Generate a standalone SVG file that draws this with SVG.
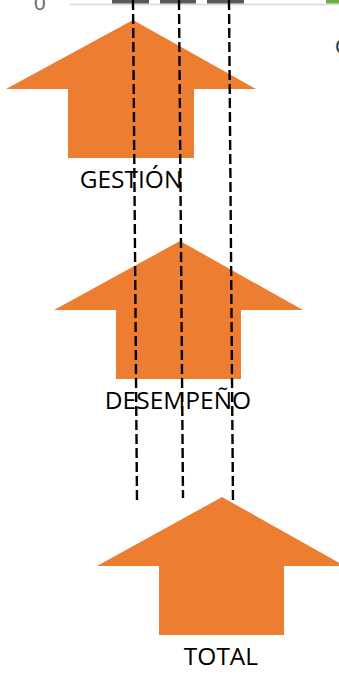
<svg xmlns="http://www.w3.org/2000/svg" width="339" height="676" viewBox="0 0 339 676">
<style>
.arrow{fill:#ed7d31}
.lbl{font-family:"Open Sans","Liberation Sans",sans-serif;font-size:24.5px;fill:#000;text-anchor:middle}
.dash{stroke:#000;stroke-width:2.4;stroke-dasharray:10,4;fill:none}
.axis{font-family:"Liberation Sans",sans-serif;font-size:21px;fill:#6b6b6b}
</style>
<rect width="339" height="676" fill="#fff"/>
<g id="chart-remnant">
<line x1="70" y1="4.5" x2="339" y2="4.5" stroke="#d9d9d9" stroke-width="1.5"/>
<rect x="112" y="0" width="37" height="3.5" fill="#595959"/>
<rect x="160" y="0" width="36" height="3.5" fill="#595959"/>
<rect x="207" y="0" width="37" height="3.5" fill="#595959"/>
<rect x="326" y="0" width="13" height="3.5" fill="#70ad47"/>
<text class="axis" x="34" y="10">0</text>
<text x="335" y="54" font-family="Liberation Sans,sans-serif" font-size="22" fill="#404040">C</text>
</g>
<g id="gestion">
<polygon class="arrow" points="133,20 256,89 194,89 194,158 68,158 68,89 6,89"/>
<text class="lbl" x="131" y="188">GESTIÓN</text>
</g>
<g id="desempeno">
<polygon class="arrow" points="180,241 303,310 241,310 241,379 116,379 116,310 54,310"/>
<text class="lbl" x="178" y="409">DESEMPEÑO</text>
</g>
<g id="total">
<polygon class="arrow" points="222,497 345,566 284,566 284,635 159,635 159,566 97,566"/>
<text class="lbl" x="221" y="665">TOTAL</text>
</g>
<g id="connectors">
<line class="dash" x1="133" y1="0" x2="137" y2="501"/>
<line class="dash" x1="179" y1="0" x2="183" y2="498"/>
<line class="dash" x1="229" y1="0" x2="233" y2="504"/>
</g>
</svg>
